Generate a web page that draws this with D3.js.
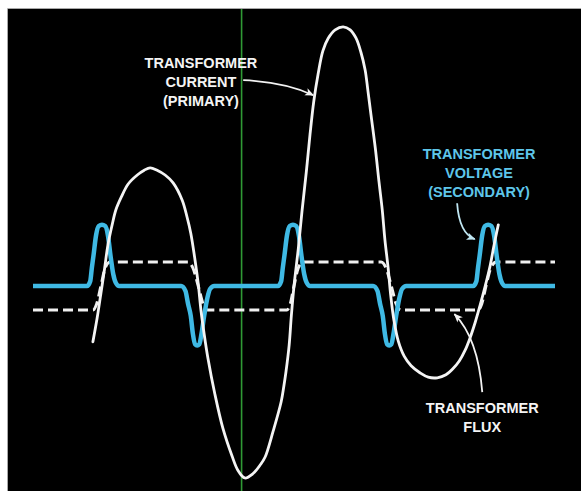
<!DOCTYPE html>
<html><head><meta charset="utf-8">
<script src="https://cdn.jsdelivr.net/npm/d3@7/dist/d3.min.js"></script>
<style>html,body{margin:0;padding:0;background:#fff;overflow:hidden}</style>
</head><body><svg id="c" width="581" height="491"></svg>
<script>
// time in electrical degrees, amplitude in relative units (0 = trace baseline)
const voltage = [
  [-39,0],[62,0],[68,0.08],[71,0.3],[74,0.5],[79,0.85],[84,1],[90,1.02],[96,1],[101,0.85],[106,0.5],[111,0.2],[116,0.05],[122,0],
  [238,0],[246,-0.08],[251,-0.3],[256,-0.5],[260,-0.8],[264,-0.97],[268,-0.99],[272,-0.97],[276,-0.8],[281,-0.5],[287,-0.2],[292,-0.05],[300,0],
  [419,0],[425,0.08],[428,0.3],[431,0.5],[436,0.85],[441,1],[447,1.02],[453,1],[458,0.85],[463,0.5],[468,0.2],[473,0.05],[479,0],
  [597,0],[605,-0.08],[610,-0.3],[615,-0.5],[619,-0.8],[623,-0.97],[627,-0.99],[631,-0.97],[635,-0.8],[640,-0.5],[646,-0.2],[651,-0.05],[659,0],
  [784,0],[790,0.08],[793,0.3],[796,0.5],[801,0.85],[806,1],[812,1.02],[818,1],[823,0.85],[828,0.5],[833,0.2],[838,0.05],[844,0],
  [937,0]
];
const flux = [
  [-39,-0.4],[73,-0.4],[80,-0.3],[88,0],[96,0.3],[105,0.4],
  [251,0.4],[260,0.3],[270,0],[279,-0.3],[288,-0.4],
  [436,-0.4],[442,-0.3],[449,0],[457,0.3],[466,0.4],
  [612,0.4],[621,0.3],[631,0],[640,-0.3],[649,-0.4],
  [793,-0.4],[800,-0.3],[808,0],[817,0.3],[827,0.4],
  [937,0.4]
];
const current = [
  [73,-0.93],[81,-0.53],[88,-0.12],[95,0.30],[101,0.68],[109,1.02],[116,1.27],[126,1.48],[139,1.70],[156,1.85],
  [169,1.93],[180,1.97],[193,1.93],[208,1.85],[223,1.72],[240,1.43],[249,1.15],[256,0.88],[264,0.43],[270,0.03],
  [275,-0.40],[281,-0.80],[288,-1.20],[301,-1.80],[316,-2.37],[333,-2.83],[344,-3.07],[357,-3.20],[372,-3.13],
  [386,-2.98],[395,-2.85],[410,-2.42],[425,-1.93],[430,-1.67],[434,-1.43],[440,-0.98],[444,-0.50],[449,0],
  [457,0.62],[464,1.25],[472,1.90],[479,2.53],[486,3.08],[494,3.53],[503,3.92],[513,4.13],[526,4.27],[541,4.32],
  [554,4.27],[565,4.13],[574,3.90],[582,3.60],[587,3.27],[593,2.85],[601,2.30],[608,1.73],[614,1.27],[619,0.77],
  [625,0.30],[630,-0.17],[636,-0.58],[644,-0.92],[655,-1.17],[668,-1.33],[685,-1.45],[700,-1.52],[717,-1.53],
  [733,-1.48],[746,-1.38],[758,-1.25],[769,-1.07],[778,-0.87],[788,-0.60],[797,-0.32],[806,-0.02],[816,0.35],
  [823,0.68],[831,1.02]
];
const cursorAngle = 351;
const currentLabel = ["TRANSFORMER", "CURRENT", "(PRIMARY)"];
const voltageLabel = ["TRANSFORMER", "VOLTAGE", "(SECONDARY)"];
const fluxLabel = ["TRANSFORMER", "FLUX"];
// label anchors and arrow paths [start, control, end] in data coordinates
const currentLabelAt = [275, 3.63];
const voltageLabelAt = [795, 2.12];
const fluxLabelAt = [801, -2.12];
const currentArrow = [[354,3.43],[432,3.40],[485,3.18]];
const voltageArrow = [[754,1.38],[758,0.88],[787,0.78]];
const fluxArrow = [[801,-1.77],[793,-0.87],[749,-0.47]];

const W = 581, H = 491;
const svg = d3.select("#c");
const x = d3.scaleLinear().domain([-39, 937]).range([33, 555]);
const y = d3.scaleLinear().domain([-3.417, 4.617]).range([491, 9]);

svg.append("rect").attr("x", 8).attr("y", 9).attr("width", W - 8).attr("height", H - 9).attr("fill", "#000");
svg.append("line").attr("x1", 7.5).attr("x2", W).attr("y1", 8.5).attr("y2", 8.5).attr("stroke", "#a8a8a8").attr("stroke-width", 1);
svg.append("line").attr("x1", 7.5).attr("x2", 7.5).attr("y1", 8.5).attr("y2", H).attr("stroke", "#a8a8a8").attr("stroke-width", 1);

const defs = svg.append("defs");
function marker(id, color) {
  defs.append("marker").attr("id", id).attr("viewBox", "0 0 10 10").attr("refX", 9).attr("refY", 5)
    .attr("markerWidth", 9).attr("markerHeight", 9).attr("markerUnits", "userSpaceOnUse").attr("orient", "auto")
    .append("path").attr("d", "M0,0.8 L10,5 L0,9.2 L2.5,5 Z").attr("fill", color);
}
marker("aw", "#f2f2f2");
marker("ac", "#bfe6f2");

// cursor line
svg.append("line").attr("x1", x(cursorAngle)).attr("x2", x(cursorAngle)).attr("y1", 9).attr("y2", H)
  .attr("stroke", "#2f9a35").attr("stroke-width", 1.6);

const line = d3.line().x(d => x(d[0])).y(d => y(d[1]));

// flux (dashed)
svg.append("path").datum(flux).attr("d", line.curve(d3.curveMonotoneX)).attr("fill", "none")
  .attr("stroke", "#f0f0f0").attr("stroke-width", 3).attr("stroke-dasharray", "10,5");

// voltage
svg.append("path").datum(voltage).attr("d", d3.line().x(d => x(d[0])).y(d => y(d[1])).curve(d3.curveMonotoneX))
  .attr("fill", "none").attr("stroke", "#3fb9e4").attr("stroke-width", 4.5).attr("stroke-linejoin", "round");

// current
svg.append("path").datum(current).attr("d", d3.line().x(d => x(d[0])).y(d => y(d[1])).curve(d3.curveCatmullRom.alpha(0.5)))
  .attr("fill", "none").attr("stroke", "#f4f4f4").attr("stroke-width", 2.8).attr("stroke-linecap", "round");

// arrows
function arrow(pts, color, mk) {
  const p = d3.path();
  p.moveTo(x(pts[0][0]), y(pts[0][1]));
  p.quadraticCurveTo(x(pts[1][0]), y(pts[1][1]), x(pts[2][0]), y(pts[2][1]));
  svg.append("path").attr("d", p.toString()).attr("fill", "none").attr("stroke", color)
    .attr("stroke-width", 1.8).attr("marker-end", `url(#${mk})`);
}
arrow(currentArrow, "#f2f2f2", "aw");
arrow(voltageArrow, "#bfe6f2", "ac");
arrow(fluxArrow, "#f2f2f2", "aw");

// labels
function label(lines, at, color) {
  const t = svg.append("text").attr("x", x(at[0])).attr("y", y(at[1])).attr("text-anchor", "middle")
    .attr("fill", color).style("font-family", "'Liberation Sans', Arial, sans-serif")
    .style("font-weight", "bold").style("font-size", "14.5px");
  lines.forEach((s, i) => t.append("tspan").attr("x", x(at[0])).attr("dy", i ? 19 : 0).text(s));
}
label(currentLabel, currentLabelAt, "#f4f4f4");
label(voltageLabel, voltageLabelAt, "#5ec6ea");
label(fluxLabel, fluxLabelAt, "#f4f4f4");
</script></body></html>
